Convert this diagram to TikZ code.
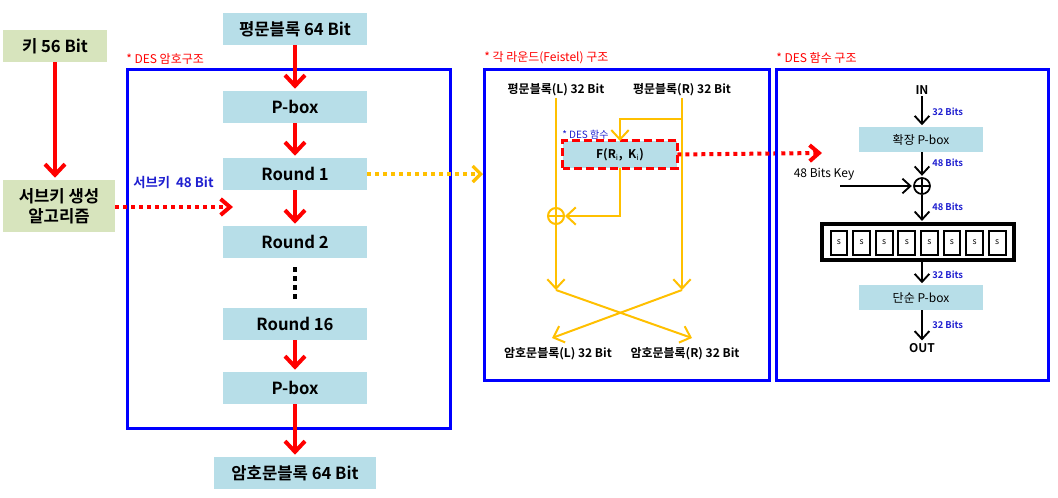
\documentclass[tikz,border=0pt]{standalone}
\usepackage{fontspec}
\setmainfont{Noto Sans CJK KR}[BoldFont={Noto Sans CJK KR Bold}]
\usetikzlibrary{arrows.meta}
\definecolor{lblue}{HTML}{B7DEE8}
\definecolor{lgreen}{HTML}{D7E4BD}
\definecolor{dred}{HTML}{FF0000}
\definecolor{dblue}{HTML}{0000FF}
\definecolor{tblue}{HTML}{1F1FD0}
\definecolor{yel}{HTML}{FFC000}
\tikzset{
  mainbox/.style={fill=lblue,draw=none,minimum width=108pt,minimum height=24pt,inner sep=0pt,font=\fontsize{12.5}{14}\selectfont\bfseries},
  greenbox/.style={fill=lgreen,draw=none,inner sep=0pt,font=\fontsize{12.5}{15}\selectfont\bfseries,align=center},
  panel/.style={draw=dblue,line width=2.25pt},
  paneltitle/.style={text=dred,anchor=west,inner sep=0pt,font=\fontsize{9}{10}\selectfont},
  redarrow/.style={draw=dred,line width=3pt,-{Straight Barb[length=8pt,width=15pt]},shorten >=1.5pt},
  reddots/.style={draw=dred,line width=3pt,dash pattern=on 3pt off 3pt,-{Straight Barb[length=7pt,width=12pt]}},
  yeldots/.style={draw=yel,line width=2.4pt,dash pattern=on 3pt off 3pt,-{Straight Barb[length=6pt,width=12pt]}},
  yline/.style={draw=yel,line width=1.5pt},
  yarrow/.style={draw=yel,line width=1.5pt,-{Straight Barb[length=7pt,width=13pt]}},
  midtext/.style={inner sep=1pt,font=\fontsize{9}{10}\selectfont\bfseries},
  rtext/.style={inner sep=1pt,font=\fontsize{9}{10}\selectfont},
  bits/.style={text=tblue,anchor=west,inner sep=0pt,font=\fontsize{7}{8}\selectfont\bfseries},
  barrow/.style={draw=black,line width=1.4pt,-{Straight Barb[length=6pt,width=11pt]},shorten >=1pt},
  fbox/.style={fill=lblue,draw=none,minimum width=85.5pt,minimum height=20pt,inner sep=0pt,font=\fontsize{9}{10}\selectfont\bfseries},
  sbox/.style={draw=black,line width=1.5pt,minimum width=12.5pt,minimum height=18pt,inner sep=0pt,font=\fontsize{6.5}{7}\selectfont},
  xorc/.style={circle,minimum size=12pt,inner sep=0pt,
    path picture={\draw[line width=\pgfkeysvalueof{/tikz/xorw}] (path picture bounding box.north) -- (path picture bounding box.south) (path picture bounding box.west) -- (path picture bounding box.east);}},
  xorw/.initial=1.2pt,
}
\begin{document}
\begin{tikzpicture}[x=0.75pt,y=-0.75pt]
\useasboundingbox (0,0) rectangle (1058,497);
\fill[white] (0,0) rectangle (1058,497);

% ---------- left part ----------
\draw[panel] (127,69) rectangle (450,428);
\node[paneltitle] (t1) at (126,59) {* DES 암호구조};

\node[greenbox,minimum width=78pt,minimum height=24pt] (key) at (55,46) {키 56 Bit};
\node[greenbox,minimum width=84pt,minimum height=39pt] (subkey) at (59,206) {서브키 생성\\알고리즘};

\node[mainbox] (plain) at (295,29) {평문블록 64 Bit};
\node[mainbox] (pb1) at (295,107) {P-box};
\node[mainbox] (r1) at (295,174) {Round 1};
\node[mainbox] (r2) at (295,242) {Round 2};
\node[mainbox] (r16) at (295,324) {Round 16};
\node[mainbox] (pb2) at (295,388) {P-box};
\node[mainbox,minimum width=121pt] (cipher) at (295,473) {암호문블록 64 Bit};

\draw[redarrow] (plain) -- (pb1);
\draw[redarrow] (pb1) -- (r1);
\draw[redarrow] (r1) -- (r2);
\draw[redarrow] (r16) -- (pb2);
\draw[redarrow] (pb2) -- (cipher);
\draw[redarrow] (key.south) -- (key.south |- subkey.north);

\coordinate (dtop) at (295,267);
\coordinate (dbot) at (295,302);
\draw[line width=3.4pt,dash pattern=on 3.4pt off 3.4pt] (dtop) -- (dbot);

\node[text=tblue,anchor=west,inner sep=0pt,font=\fontsize{10}{11}\selectfont\bfseries] (sklab) at (133,183) {서브키\ \ 48 Bit};
\coordinate (skend) at (233,207);
\draw[reddots] (subkey.east |- skend) -- (skend);

\coordinate (feend) at (483,174);
\draw[yeldots] (r1.east) -- (feend);

% ---------- middle part ----------
\draw[panel] (484,69) rectangle (769,380);
\node[paneltitle] (t2) at (484,58) {* 각 라운드(Feistel) 구조};

\node[midtext] (pl) at (556,90) {평문블록(L) 32 Bit};
\node[midtext] (pr) at (682,90) {평문블록(R) 32 Bit};
\node[fbox] (F) at (620,154.5) {F(R$_{\mathrm{i}}$,\ \ K$_{\mathrm{i}}$)};
\draw[draw=dred,line width=2.2pt,dash pattern=on 6pt off 3pt] (F.south west) rectangle (F.north east);
\node[text=tblue,anchor=south west,inner sep=0pt,font=\fontsize{7.5}{8}\selectfont] (dlab) at (562,140) {* DES 함수};

\node[xorc,draw=yel,line width=1.5pt,xorw=1.5pt] (xl) at (556,216) {};

\coordinate (lend) at (556,290);
\coordinate (rend) at (682,290);
\coordinate (br) at (682,119);
\coordinate (cre) at (692,338);
\coordinate (cle) at (552,338);

\draw[yline] (pl.south) -- (xl.north);
\draw[yarrow] (xl.south) -- (lend);
\draw[yarrow] (pr.south) -- (rend);
\draw[yarrow] (br) -| (F.north);
\draw[yarrow] (F.south) |- (xl.east);
\draw[yarrow] (lend) -- (cre);
\draw[yarrow] (rend) -- (cle);

\node[midtext] (cl) at (558,354) {암호문블록(L) 32 Bit};
\node[midtext] (cr) at (685,354) {암호문블록(R) 32 Bit};

\coordinate (fend) at (822,153);
\draw[reddots] (F.east) -- (fend);

% ---------- right part ----------
\draw[panel] (776,69) rectangle (1048,380);
\node[paneltitle] (t3) at (776,58) {* DES 함수 구조};

\node[rtext,font=\fontsize{9}{10}\selectfont\bfseries] (in) at (922,90) {IN};
\node[fill=lblue,minimum width=93pt,minimum height=19pt,inner sep=0pt,font=\fontsize{9}{10}\selectfont] (ep) at (921,139.5) {확장 P-box};
\node[xorc,draw=black,line width=1.3pt,xorw=1.3pt] (xr) at (922,186) {};
\node[rtext] (kl) at (824,174) {48 Bits Key};
\coordinate (kst) at (840,186);
\draw[barrow] (kst) -- (xr.west);

\node[draw=black,line width=2.6pt,minimum width=144pt,minimum height=27pt,inner sep=0pt] (sb) at (918,242) {};
\foreach \i in {0,...,7} {
  \node[sbox] (s\i) at ({839+22.6*\i},242.5) {s};
}
\node[fill=lblue,minimum width=93pt,minimum height=19pt,inner sep=0pt,font=\fontsize{9}{10}\selectfont] (sp) at (921,297.5) {단순 P-box};
\node[rtext,font=\fontsize{9}{10}\selectfont\bfseries] (out) at (922,348) {OUT};

\draw[barrow] (in.south) -- (in.south |- ep.north);
\draw[barrow] (in.south |- ep.south) -- (xr.north);
\draw[barrow] (xr.south) -- (xr.south |- sb.north);
\draw[barrow] (in.south |- sb.south) -- (in.south |- sp.north);
\draw[barrow] (in.south |- sp.south) -- (out.north);

\node[bits] (b1) at (932,112) {32 Bits};
\node[bits] (b2) at (932,163) {48 Bits};
\node[bits] (b3) at (932,207) {48 Bits};
\node[bits] (b4) at (932,275) {32 Bits};
\node[bits] (b5) at (932,325) {32 Bits};
\end{tikzpicture}
\end{document}
